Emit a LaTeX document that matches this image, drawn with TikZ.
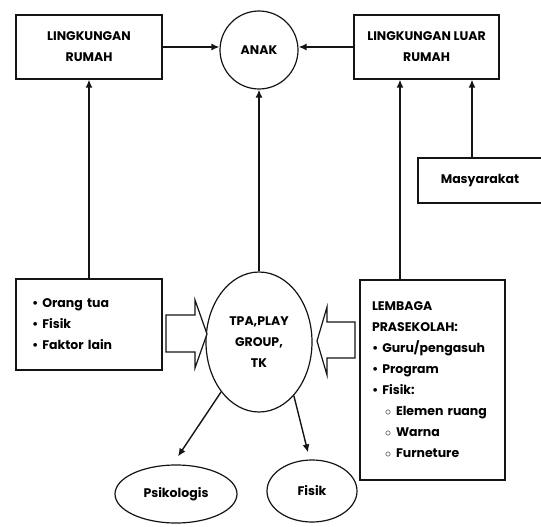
\documentclass[tikz,border=0pt]{standalone}
\usepackage{fontspec}
\setmainfont{Poppins}
\usetikzlibrary{positioning, calc, shapes.geometric, arrows.meta}
\definecolor{DInk}{RGB}{20,20,20}

\begin{document}
\begin{tikzpicture}[x=1pt, y=-1pt,
      every node/.style={font=\bfseries\fontsize{12.5}{21}\selectfont, inner sep=0pt, text=black},
      envbox/.style={draw=DInk, line width=1.3pt, minimum width=146pt,
                     minimum height=64pt, align=center},
      listbox/.style={draw=DInk, line width=1.3pt, align=left},
      ringnode/.style={draw=DInk, line width=1.2pt, ellipse, align=center},
      arr/.style={-{Latex[length=8pt, width=7pt]}, line width=1.4pt, DInk},
      fatarr/.style={draw=DInk, line width=1.2pt, fill=white},
    ]
      \useasboundingbox (0,0) rectangle (541,527);
      % Top row: home, child, outside home
      \node[envbox] (lr) at (89,47) {LINGKUNGAN\\RUMAH};
      \node[ringnode, circle, minimum size=78pt] (anak) at (259,50) {ANAK};
      \node[envbox, minimum width=145pt] (llr) at (426.5,47) {LINGKUNGAN LUAR\\RUMAH};
      \draw[arr] (lr.east) -- (lr.east -| anak.west);
      \draw[arr] (llr.west) -- (llr.west -| anak.east);
      % Community
      \node[envbox, minimum width=124pt, minimum height=45pt] (mas) at (480,180.5) {Masyarakat};
      \draw[arr] ([xshift=-8pt]mas.north) -- ([xshift=-8pt]mas.north |- llr.south);
      % Middle row
      \node[listbox, text width=114pt, inner xsep=16pt, minimum height=91pt] (lb) at (89,324.5) {%
        \textbullet\hspace{4pt}Orang tua\\
        \textbullet\hspace{4pt}Fisik\\
        \textbullet\hspace{4pt}Faktor lain};
      \node[ringnode, minimum width=106pt, minimum height=140pt] (tpa) at (259,342)
        {TPA,PLAY\\GROUP,\\TK};
      \node[listbox, text width=121pt, inner xsep=12pt, minimum height=200pt] (rb) at (432.5,380) {%
        LEMBAGA\\
        PRASEKOLAH:\\
        \textbullet\hspace{4pt}Guru/pengasuh\\
        \textbullet\hspace{4pt}Program\\
        \textbullet\hspace{4pt}Fisik:\\
        \hspace{13pt}$\circ$\hspace{5pt}Elemen ruang\\
        \hspace{13pt}$\circ$\hspace{5pt}Warna\\
        \hspace{13pt}$\circ$\hspace{5pt}Furneture};
      \draw[arr] (lb) -- (lr);
      \draw[arr] (tpa) -- (anak);
      \draw[arr] ([xshift=-32.5pt]rb.north) -- ([xshift=-32.5pt]rb.north |- llr.south);
      % Hollow arrows into the centre
      \draw[fatarr] (166,315) -- (195,315) -- (195,300) -- (207,334) -- (195,368)
        -- (195,352) -- (166,352) -- cycle;
      \draw[fatarr] (355,322) -- (327,322) -- (327,307) -- (317,341) -- (327,375)
        -- (327,358) -- (355,358) -- cycle;
      % Bottom: outcomes
      \node[ringnode, minimum width=122pt, minimum height=58pt] (psi) at (176,494) {Psikologis};
      \node[ringnode, minimum width=90pt, minimum height=62pt] (fis) at (312,491) {Fisik};
      \draw[arr] (tpa.south west) -- ([xshift=2pt,yshift=8pt]psi.north);
      \draw[arr] (tpa.-57) -- ([xshift=-4pt,yshift=7pt]fis.north);
    \end{tikzpicture}
\end{document}
